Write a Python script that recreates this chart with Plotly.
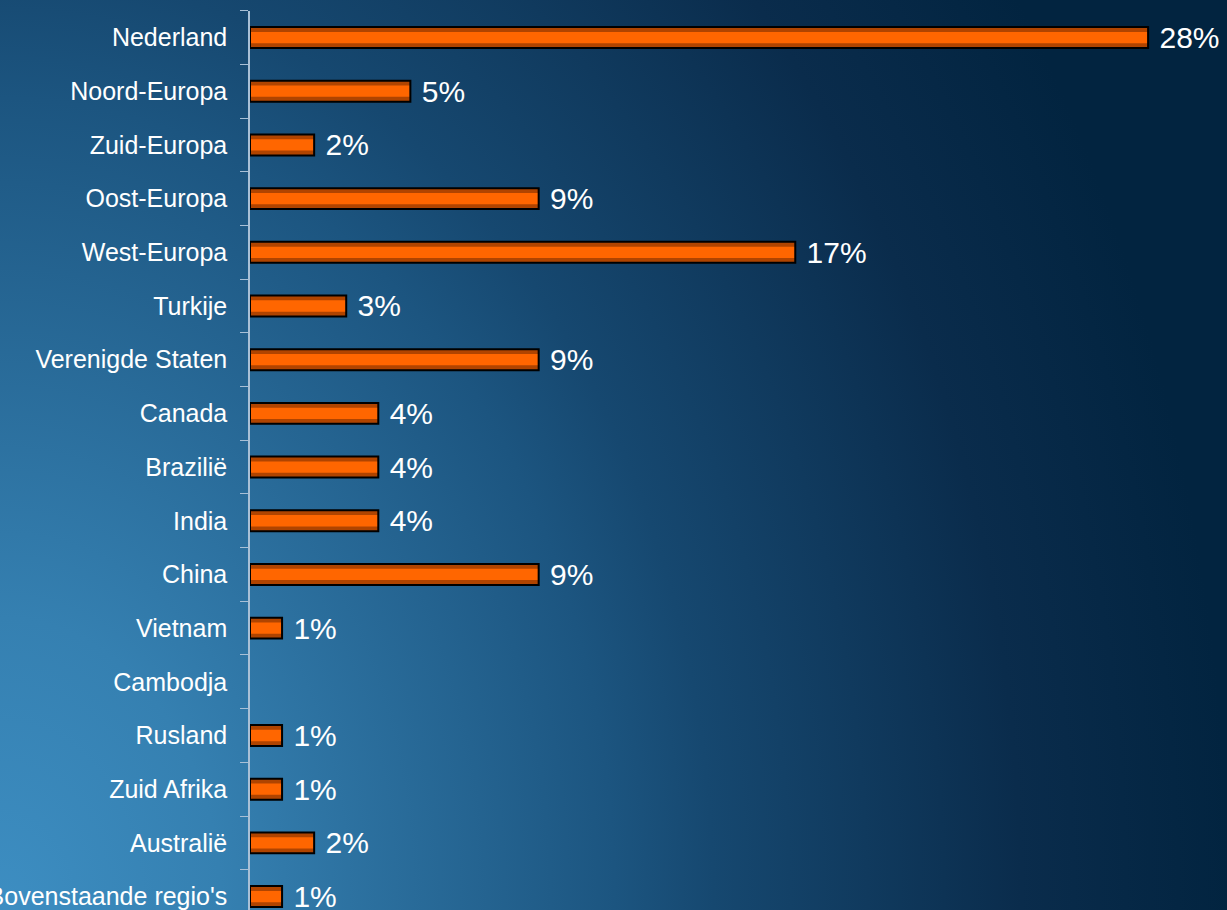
import base64
import plotly.graph_objects as go

categories = ["Nederland", "Noord-Europa", "Zuid-Europa", "Oost-Europa", "West-Europa",
              "Turkije", "Verenigde Staten", "Canada", "Brazilië", "India", "China",
              "Vietnam", "Cambodja", "Rusland", "Zuid Afrika", "Australië",
              "Bovenstaande regio's"]
values = [28, 5, 2, 9, 17, 3, 9, 4, 4, 4, 9, 1, None, 1, 1, 2, 1]
labels = [("" if v is None else f" {v}%") for v in values]

W, H = 1227, 910
svg = f'''<svg xmlns="http://www.w3.org/2000/svg" width="{W}" height="{H}" viewBox="0 0 {W} {H}">
<defs><radialGradient id="g" gradientUnits="userSpaceOnUse" cx="0" cy="{H}" r="1230"
 gradientTransform="translate(0,{H}) scale(1,1.32) translate(0,-{H})">
<stop offset="0" stop-color="#3d8ec2"/>
<stop offset="0.18" stop-color="#3580b1"/>
<stop offset="0.5" stop-color="#1c5580"/>
<stop offset="0.58" stop-color="#164870"/>
<stop offset="0.83" stop-color="#0a2c4c"/>
<stop offset="1" stop-color="#022440"/>
</radialGradient></defs>
<rect x="0" y="0" width="{W}" height="{H}" fill="url(#g)"/>
</svg>'''
bg_src = "data:image/svg+xml;base64," + base64.b64encode(svg.encode()).decode()

fig = go.Figure()
# dark orange body
fig.add_trace(go.Bar(y=categories, x=values, orientation="h", width=0.39,
                     marker=dict(color="#b04400", line=dict(width=0)),
                     hoverinfo="skip", showlegend=False))
# bright centre band
fig.add_trace(go.Bar(y=categories, x=values, orientation="h", width=0.21,
                     marker=dict(color="#ff6600", line=dict(width=0)),
                     hoverinfo="skip", showlegend=False))
# black outline + labels
fig.add_trace(go.Bar(y=categories, x=values, orientation="h", width=0.39,
                     marker=dict(color="rgba(0,0,0,0)", line=dict(width=2, color="#000000")),
                     text=labels, textposition="outside", cliponaxis=False,
                     constraintext="none",
                     textfont=dict(family="Liberation Sans, Arial", size=30, color="white"),
                     outsidetextfont=dict(family="Liberation Sans, Arial", size=30, color="white"),
                     hoverinfo="skip", showlegend=False))

n = len(categories)
fig.update_layout(
    width=W, height=H,
    margin=dict(l=0, r=0, t=0, b=0, autoexpand=False),
    barmode="overlay",
    paper_bgcolor="#0a2c4c",
    plot_bgcolor="rgba(0,0,0,0)",
    images=[dict(source=bg_src, xref="paper", yref="paper", x=0, y=1,
                 sizex=1, sizey=1, xanchor="left", yanchor="top",
                 sizing="stretch", layer="below")],
    xaxis=dict(domain=[250 / W, 1], range=[0, 30.46], visible=False,
               showgrid=False, zeroline=False, automargin=False),
    yaxis=dict(domain=[0, 1 - 10.7 / H], range=[n - 0.75, -0.5], type="category",
               automargin=False,
               showline=True, linecolor="#a9c0d6", linewidth=1.5,
               ticks="outside", tickson="boundaries", ticklen=8,
               tickcolor="#a9c0d6", tickwidth=1.2, ticklabelstandoff=16,
               showgrid=False, zeroline=False,
               tickfont=dict(family="Liberation Sans, Arial", size=25, color="white")),
    font=dict(family="Liberation Sans, Arial", color="white"),
)
fig.write_html("out.html", config={"displayModeBar": False},
               post_script="document.body.style.margin='0';")
